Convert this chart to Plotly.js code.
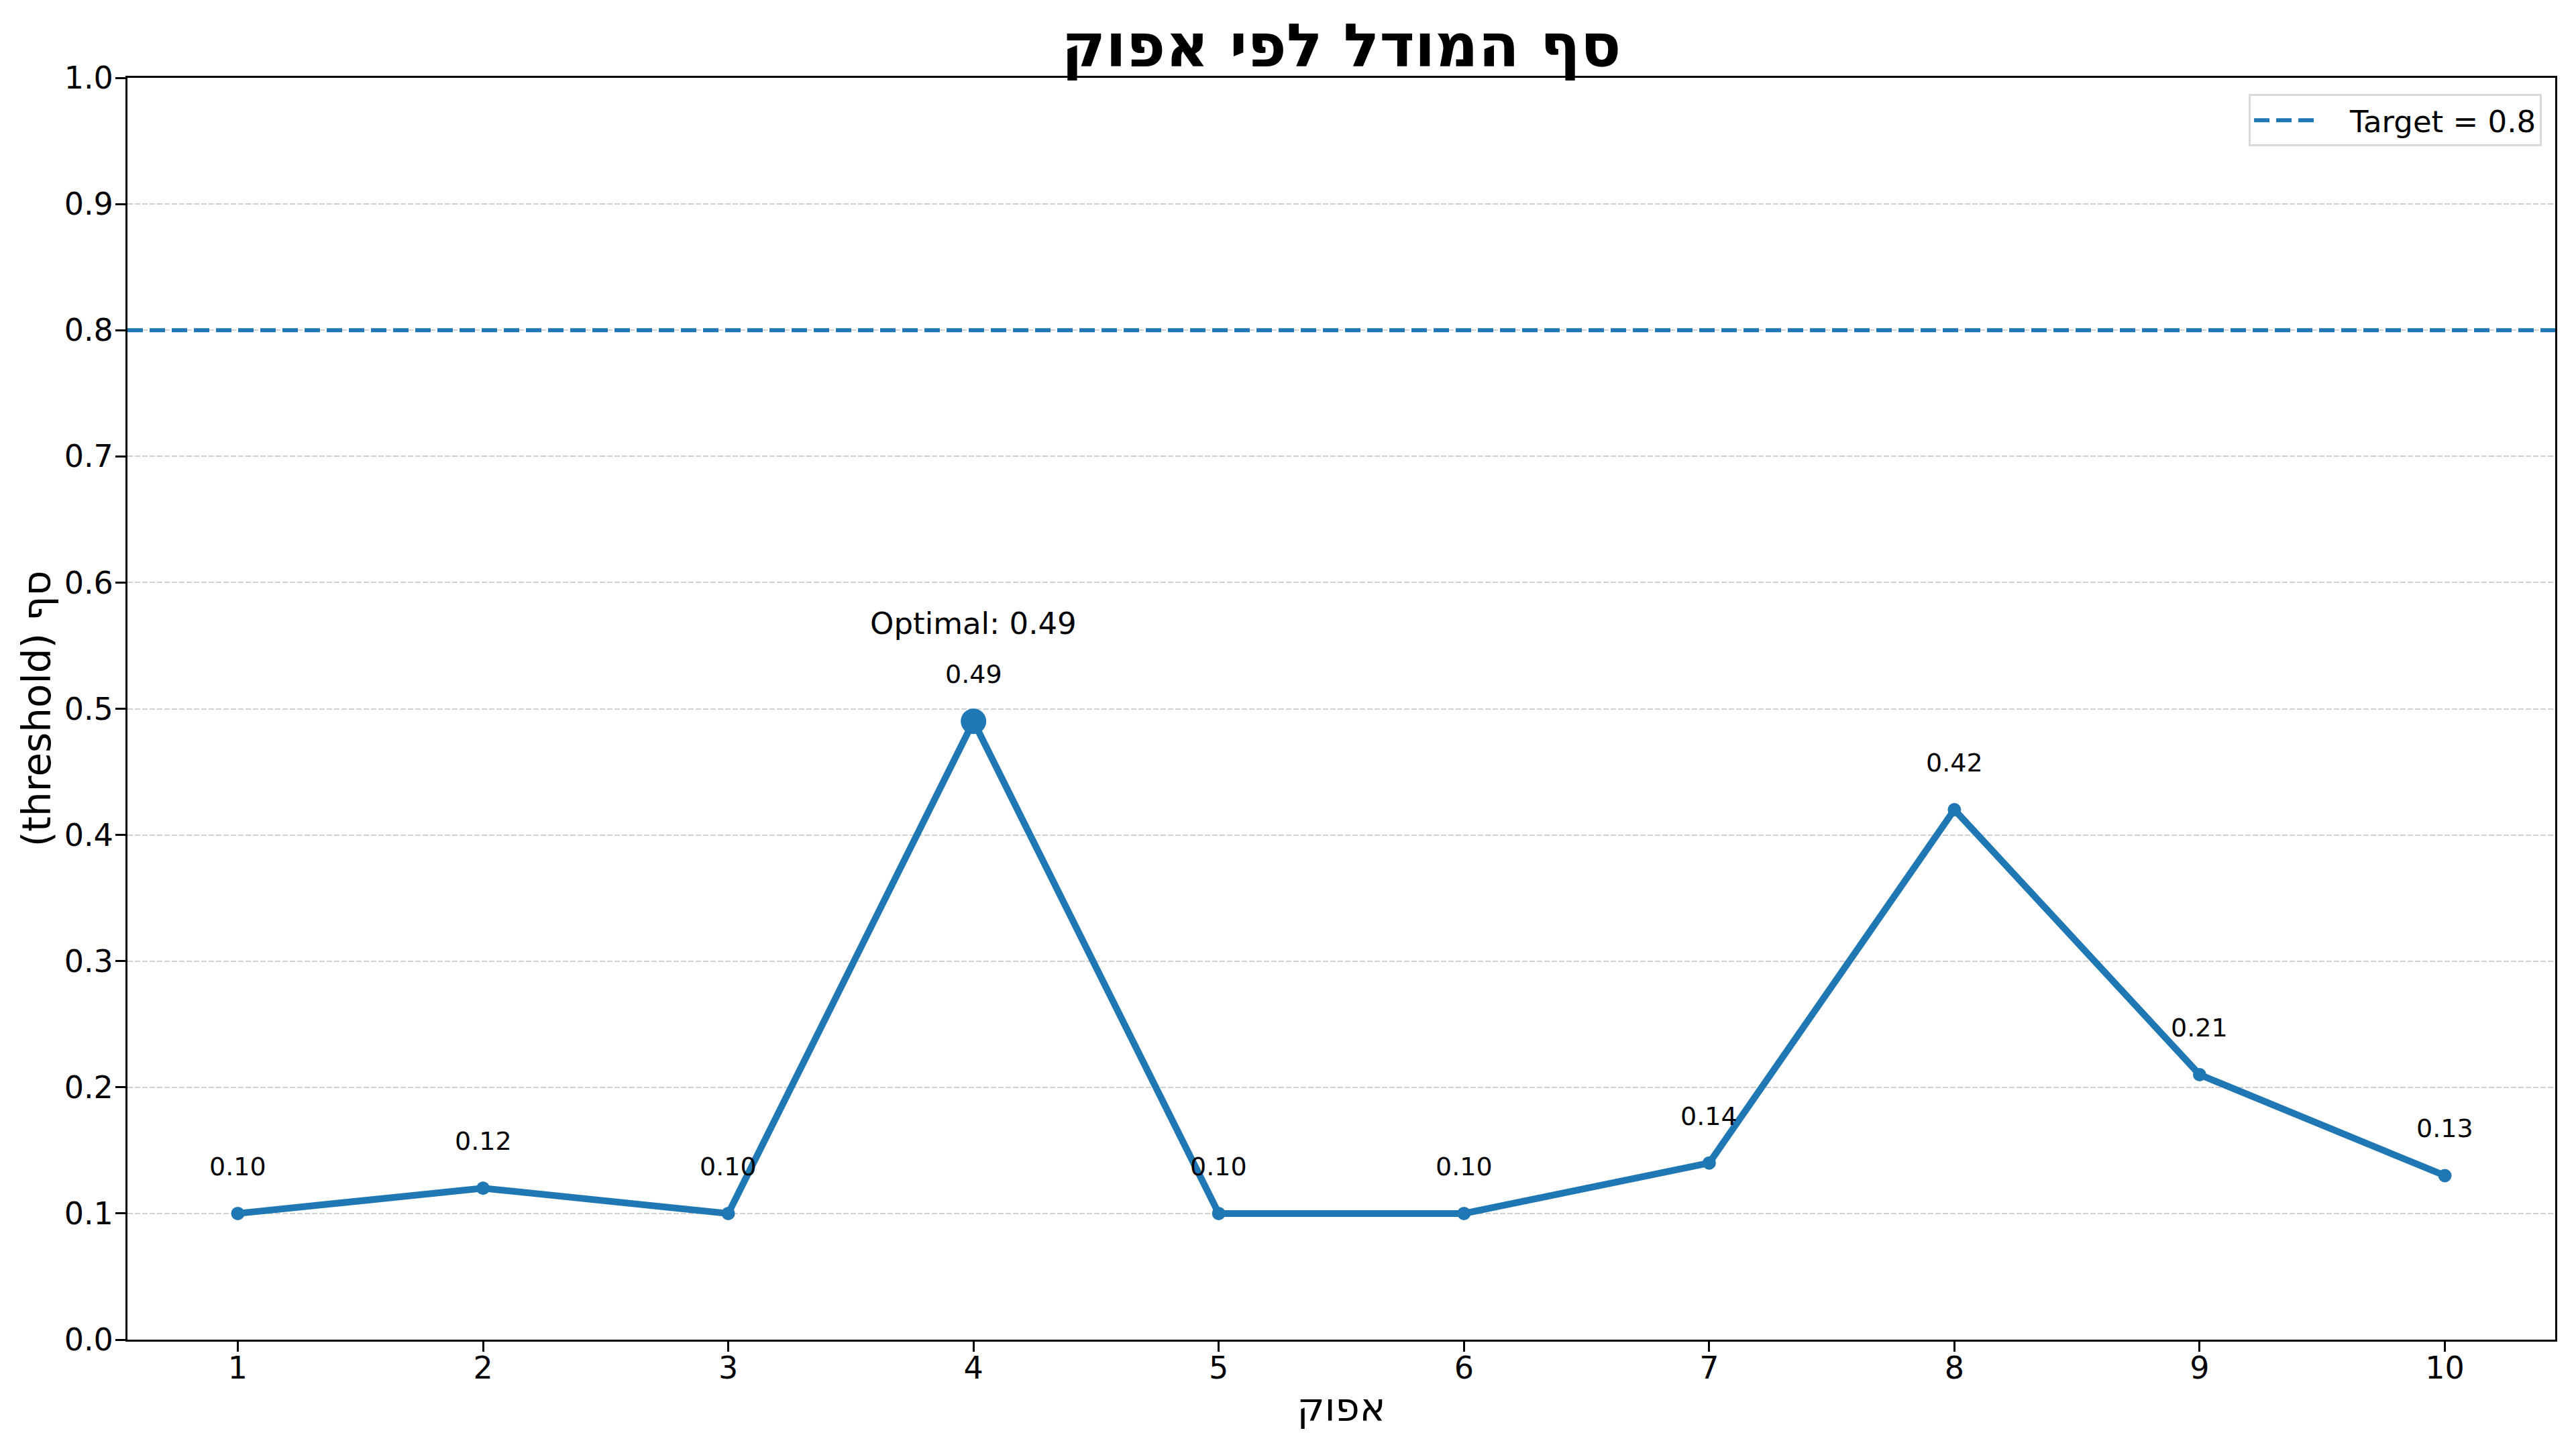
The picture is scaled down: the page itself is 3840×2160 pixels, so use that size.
<!DOCTYPE html>
<html>
<head>
<meta charset="utf-8">
<script src="https://cdn.plot.ly/plotly-3.0.1.min.js"></script>
<style>
  html, body { margin: 0; padding: 0; background: #ffffff; }
  #chart { width: 3840px; height: 2160px; }
</style>
</head>
<body>
<div id="chart"></div>
<script>
// ---- data ----
const epochs = [1, 2, 3, 4, 5, 6, 7, 8, 9, 10];
const thresholds = [0.10, 0.12, 0.10, 0.49, 0.10, 0.10, 0.14, 0.42, 0.21, 0.13];
const targetValue = 0.8;
const targetLabel = "Target = 0.8";
const yTickValues = [0.0, 0.1, 0.2, 0.3, 0.4, 0.5, 0.6, 0.7, 0.8, 0.9, 1.0];
const titleText = "סף המודל לפי אפוק";
const xTitleText = "אפוק";
const yTitleText = "(threshold) סף";

// ---- derived ----
const blue = "#1f77b4";
const font = "DejaVu Sans, Noto Sans, sans-serif";
const span = epochs[epochs.length - 1] - epochs[0];
const xMin = epochs[0] - 0.05 * span;
const xMax = epochs[epochs.length - 1] + 0.05 * span;
let bestIdx = 0;
thresholds.forEach((v, i) => { if (v > thresholds[bestIdx]) bestIdx = i; });

const traces = [
  {
    x: [xMin, xMax],
    y: [targetValue, targetValue],
    mode: "lines",
    name: "\u00a0\u00a0\u00a0" + targetLabel,
    line: { color: blue, width: 6, dash: "23px,10px" },
    showlegend: true,
    hoverinfo: "skip"
  },
  {
    x: epochs,
    y: thresholds,
    mode: "lines+markers",
    line: { color: blue, width: 10 },
    marker: { color: blue, size: 20 },
    showlegend: false
  },
  {
    x: [epochs[bestIdx]],
    y: [thresholds[bestIdx]],
    mode: "markers",
    marker: { color: blue, size: 38 },
    showlegend: false
  }
];

const annotations = epochs.map((e, i) => ({
  x: e, y: thresholds[i], xref: "x", yref: "y",
  text: thresholds[i].toFixed(2),
  showarrow: false, yanchor: "middle", xanchor: "center",
  yshift: 70,
  font: { family: font, size: 38, color: "#000000" }
}));
annotations.push({
  x: epochs[bestIdx], y: thresholds[bestIdx], xref: "x", yref: "y",
  text: "Optimal: " + thresholds[bestIdx].toFixed(2),
  showarrow: false, yanchor: "middle", xanchor: "center",
  yshift: 146,
  font: { family: font, size: 45, color: "#000000" }
});

const layout = {
  width: 3840,
  height: 2160,
  paper_bgcolor: "#ffffff",
  plot_bgcolor: "#ffffff",
  margin: { l: 190, r: 31, t: 116, b: 163, pad: 0 },
  font: { family: font, color: "#000000", size: 45 },
  title: {
    text: titleText,
    font: { family: font, size: 89, color: "#000000", weight: "bold" },
    x: 0.5, xref: "paper", xanchor: "center",
    y: 1 - 68 / 2160, yref: "container", yanchor: "middle"
  },
  xaxis: {
    range: [xMin, xMax],
    tickvals: epochs,
    ticktext: epochs.map(String),
    showgrid: false,
    zeroline: false,
    showline: true, mirror: true, linecolor: "#000000", linewidth: 3,
    ticks: "outside", ticklen: 15, tickwidth: 3, tickcolor: "#000000",
    ticklabelstandoff: -15,
    tickfont: { family: font, size: 46, color: "#000000" },
    title: { text: xTitleText, font: { family: font, size: 58, color: "#000000" }, standoff: 13 }
  },
  yaxis: {
    range: [0, 1],
    tickvals: yTickValues,
    ticktext: yTickValues.map(v => v.toFixed(1)),
    showgrid: true,
    gridcolor: "rgba(176,176,176,0.6)",
    gridwidth: 2,
    griddash: "8px,3px",
    zeroline: false,
    showline: true, mirror: true, linecolor: "#000000", linewidth: 3,
    ticks: "outside", ticklen: 15, tickwidth: 3, tickcolor: "#000000",
    ticklabelstandoff: -6,
    tickfont: { family: font, size: 46, color: "#000000" },
    title: { text: yTitleText, font: { family: font, size: 58, color: "#000000" }, standoff: 2 }
  },
  legend: {
    x: 0.9945, xanchor: "right",
    y: 0.987, yanchor: "top",
    bgcolor: "rgba(255,255,255,0.8)",
    bordercolor: "#d9d9d9",
    borderwidth: 3,
    itemwidth: 95,
    font: { family: font, size: 45, color: "#000000" }
  },
  annotations: annotations,
  showlegend: true
};

Plotly.newPlot("chart", traces, layout, { displayModeBar: false, staticPlot: true });
</script>
</body>
</html>
